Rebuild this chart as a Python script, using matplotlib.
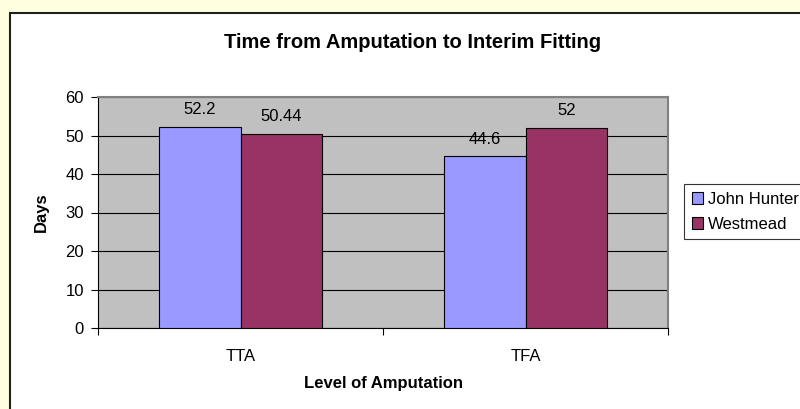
import matplotlib.pyplot as plt
import numpy as np
from matplotlib.patches import Rectangle

categories = ['TTA', 'TFA']
john_hunter = [52.2, 44.6]
westmead = [50.44, 52]
john_labels = ['52.2', '44.6']
west_labels = ['50.44', '52']

plt.rcParams['font.family'] = ['Liberation Sans', 'DejaVu Sans']

fig = plt.figure(figsize=(8, 4.09), dpi=100)
fig.patch.set_facecolor('#FFFFE0')
# white chart frame, cut off at right and bottom
fig.patches.append(Rectangle((10 / 800, -0.05), 1.0, 1 - 13 / 409 + 0.05,
                             transform=fig.transFigure, facecolor='white',
                             edgecolor='#202020', linewidth=1.5, zorder=-10))

ax = fig.add_axes([98 / 800, 81 / 409, 570 / 800, 231 / 409])
ax.set_facecolor('#C0C0C0')

x = np.arange(len(categories))
w = 1 / 3.5
b1 = ax.bar(x - w / 2, john_hunter, w, color='#9999FF', edgecolor='black',
            linewidth=0.8, label='John Hunter', zorder=3)
b2 = ax.bar(x + w / 2, westmead, w, color='#993366', edgecolor='black',
            linewidth=0.8, label='Westmead', zorder=3)

for bars, labels in [(b1, john_labels), (b2, west_labels)]:
    for rect, lab in zip(bars, labels):
        ax.annotate(lab, (rect.get_x() + rect.get_width() / 2, rect.get_height()),
                    xytext=(0, 7), textcoords='offset points', ha='center',
                    va='bottom', fontsize=12, color='black')

ax.set_ylim(0, 60)
ax.set_xlim(-0.5, 1.5)
ax.set_yticks(range(0, 61, 10))
ax.yaxis.grid(True, color='black', linewidth=0.8, zorder=1)
ax.set_axisbelow(True)

ax.set_xticks([-0.5, 0.5, 1.5])
ax.set_xticklabels([])
ax.set_xticks(x, minor=True)
ax.set_xticklabels(categories, minor=True)
ax.tick_params(axis='x', which='major', direction='out', length=5, width=0.8)
ax.tick_params(axis='x', which='minor', length=0, pad=15, labelsize=12)
ax.tick_params(axis='y', direction='out', length=5, width=0.8, labelsize=12, pad=5)

for s in ['left', 'bottom']:
    ax.spines[s].set_color('black')
    ax.spines[s].set_linewidth(0.8)
for s in ['top', 'right']:
    ax.spines[s].set_color('#808080')
    ax.spines[s].set_linewidth(1.5)

ax.set_xlabel('Level of Amputation', fontsize=12, fontweight='bold', labelpad=9)
ax.set_ylabel('Days', fontsize=12, fontweight='bold', labelpad=12)

fig.text(413 / 800, 1 - 43 / 409, 'Time from Amputation to Interim Fitting',
         ha='center', va='center', fontsize=14.5, fontweight='bold')

leg = fig.legend(loc='upper left', bbox_to_anchor=(684 / 800, 1 - 184 / 409),
                 fontsize=12, frameon=True, fancybox=False, edgecolor='black',
                 handlelength=0.7, handleheight=0.7, handletextpad=0.3,
                 borderpad=0.45, labelspacing=0.6, borderaxespad=0)
leg.get_frame().set_linewidth(0.8)

fig.savefig('out.png', dpi=100, facecolor=fig.get_facecolor())
